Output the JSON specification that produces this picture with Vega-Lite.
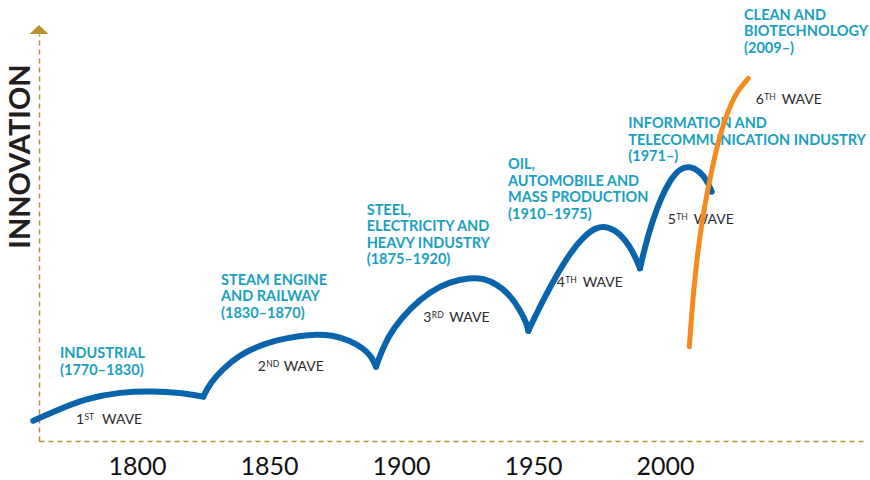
{
  "$schema": "https://vega.github.io/schema/vega-lite/v6.json",
  "width": 826,
  "height": 407,
  "autosize": {"type": "none"},
  "padding": {"left": 39, "top": 34, "right": 5, "bottom": 39},
  "background": "white",
  "config": {"view": {"stroke": null}, "font": "Lato"},
  "datasets": {
    "waves": [
      {"w": 1, "year": 1760.72, "v": 4.99},
      {"w": 1, "year": 1768.3, "v": 7.2},
      {"w": 1, "year": 1780.95, "v": 10.49},
      {"w": 1, "year": 1793.56, "v": 12.04},
      {"w": 1, "year": 1806.18, "v": 12.29},
      {"w": 1, "year": 1816.29, "v": 11.87},
      {"w": 1, "year": 1825.11, "v": 10.9},
      {"w": 2, "year": 1825.11, "v": 10.9},
      {"w": 2, "year": 1827.65, "v": 14.18},
      {"w": 2, "year": 1832.69, "v": 17.86},
      {"w": 2, "year": 1839.02, "v": 21.13},
      {"w": 2, "year": 1845.34, "v": 23.17},
      {"w": 2, "year": 1852.92, "v": 24.82},
      {"w": 2, "year": 1861.74, "v": 25.87},
      {"w": 2, "year": 1868.07, "v": 26.22},
      {"w": 2, "year": 1874.36, "v": 25.97},
      {"w": 2, "year": 1880.68, "v": 24.64},
      {"w": 2, "year": 1885.72, "v": 22.78},
      {"w": 2, "year": 1888.9, "v": 20.71},
      {"w": 2, "year": 1890.53, "v": 18.26},
      {"w": 3, "year": 1890.53, "v": 18.26},
      {"w": 3, "year": 1893.3, "v": 23.17},
      {"w": 3, "year": 1897.08, "v": 27.69},
      {"w": 3, "year": 1903.41, "v": 32.6},
      {"w": 3, "year": 1910.99, "v": 36.68},
      {"w": 3, "year": 1918.56, "v": 39.14},
      {"w": 3, "year": 1926.14, "v": 40.12},
      {"w": 3, "year": 1931.18, "v": 39.98},
      {"w": 3, "year": 1936.25, "v": 38.57},
      {"w": 3, "year": 1941.29, "v": 35.87},
      {"w": 3, "year": 1945.08, "v": 32.19},
      {"w": 3, "year": 1947.61, "v": 28.92},
      {"w": 3, "year": 1948.22, "v": 27.03},
      {"w": 4, "year": 1948.22, "v": 27.03},
      {"w": 4, "year": 1950.76, "v": 30.54},
      {"w": 4, "year": 1954.55, "v": 35.45},
      {"w": 4, "year": 1958.98, "v": 40.79},
      {"w": 4, "year": 1964.02, "v": 46.12},
      {"w": 4, "year": 1969.05, "v": 50.2},
      {"w": 4, "year": 1974.13, "v": 52.65},
      {"w": 4, "year": 1978.52, "v": 52.65},
      {"w": 4, "year": 1982.96, "v": 51.03},
      {"w": 4, "year": 1986.74, "v": 47.74},
      {"w": 4, "year": 1989.28, "v": 44.47},
      {"w": 4, "year": 1990.53, "v": 42.43},
      {"w": 5, "year": 1990.53, "v": 42.43},
      {"w": 5, "year": 1992.43, "v": 47.74},
      {"w": 5, "year": 1994.96, "v": 53.49},
      {"w": 5, "year": 1998.11, "v": 59.21},
      {"w": 5, "year": 2001.9, "v": 64.13},
      {"w": 5, "year": 2005.68, "v": 67.0},
      {"w": 5, "year": 2009.47, "v": 67.57},
      {"w": 5, "year": 2013.26, "v": 66.17},
      {"w": 5, "year": 2015.8, "v": 64.13},
      {"w": 5, "year": 2017.69, "v": 61.25}
    ],
    "sixth": [
      {"year": 2009.21, "v": 23.17},
      {"year": 2010.11, "v": 31.38},
      {"year": 2011.36, "v": 40.37},
      {"year": 2012.99, "v": 49.39},
      {"year": 2015.15, "v": 58.4},
      {"year": 2017.69, "v": 66.58},
      {"year": 2020.57, "v": 74.77},
      {"year": 2023.98, "v": 81.33},
      {"year": 2027.16, "v": 85.82},
      {"year": 2031.55, "v": 89.12}
    ],
    "arrow": [{"year": 1762.88, "v": 101.17}],
    "eras": [
      {"year": 1770.83, "v": 20.32, "t": "INDUSTRIAL\n(1770–1830)"},
      {"year": 1831.82, "v": 38.33, "t": "STEAM ENGINE\nAND RAILWAY\n(1830–1870)"},
      {"year": 1887.01, "v": 55.53, "t": "STEEL,\nELECTRICITY AND\nHEAVY INDUSTRY\n(1875–1920)"},
      {"year": 1940.53, "v": 66.83, "t": "OIL,\nAUTOMOBILE AND\nMASS PRODUCTION\n(1910–1975)"},
      {"year": 1986.1, "v": 76.83, "t": "INFORMATION AND\nTELECOMMUNICATION INDUSTRY\n(1971–)"},
      {"year": 2029.93, "v": 103.44, "t": "CLEAN AND\nBIOTECHNOLOGY\n(2009–)"}
    ],
    "labels": [
      {"year": 1776.9, "v": 4.18, "n": "1", "s": "ST"},
      {"year": 1845.72, "v": 17.27, "n": "2", "s": "ND"},
      {"year": 1908.45, "v": 29.31, "n": "3", "s": "RD"},
      {"year": 1958.98, "v": 37.91, "n": "4", "s": "TH"},
      {"year": 2001.02, "v": 53.24, "n": "5", "s": "TH"},
      {"year": 2034.36, "v": 82.8, "n": "6", "s": "TH"}
    ]
  },
  "encoding": {
    "x": {
      "field": "year",
      "type": "quantitative",
      "scale": {"domain": [1762.88, 2075.76], "nice": false, "zero": false},
      "axis": {
        "values": [1800, 1850, 1900, 1950, 2000],
        "format": "d",
        "title": null,
        "ticks": false,
        "tickSize": 0,
        "grid": false,
        "labelFont": "Lato",
        "labelFontSize": 25,
        "labelFontWeight": "normal",
        "labelColor": "#111111",
        "labelPadding": 13,
        "labelFlush": false,
        "domainColor": "#B8912F",
        "domainDash": [5, 4],
        "domainWidth": 1.5
      }
    },
    "y": {
      "field": "v",
      "type": "quantitative",
      "scale": {"domain": [0, 100], "nice": false, "zero": false},
      "axis": {
        "title": "INNOVATION",
        "labels": false,
        "ticks": false,
        "grid": false,
        "domainColor": "#B8912F",
        "domainDash": [5, 4],
        "domainWidth": 1.5,
        "titleFont": "Lato",
        "titleFontSize": 29,
        "titleFontWeight": "bold",
        "titleColor": "#231F20",
        "titleX": -19,
        "titleY": 122,
        "titleAngle": 270,
        "titleAlign": "center",
        "titleBaseline": "middle"
      }
    }
  },
  "layer": [
    {
      "data": {"name": "waves"},
      "mark": {"type": "line", "color": "#0A64AC", "strokeWidth": 6, "strokeCap": "round", "strokeJoin": "round", "interpolate": "basis", "clip": false},
      "encoding": {"detail": {"field": "w", "type": "nominal"}}
    },
    {
      "data": {"name": "arrow"},
      "mark": {"type": "point", "shape": "M-1,0.5L1,0.5L0,-0.45Z", "size": 361, "filled": true, "color": "#B8912F", "opacity": 1, "strokeWidth": 0}
    },
    {
      "data": {"name": "eras"},
      "mark": {"type": "text", "align": "left", "baseline": "alphabetic", "font": "Lato", "fontSize": 14.5, "fontWeight": "bold", "color": "#1A9FC0", "lineBreak": "\n", "lineHeight": 16.5},
      "encoding": {"text": {"field": "t"}}
    },
    {
      "data": {"name": "labels"},
      "mark": {"type": "text", "align": "left", "baseline": "alphabetic", "font": "Lato", "fontSize": 14, "color": "#2B2B2B"},
      "encoding": {"text": {"field": "n"}}
    },
    {
      "data": {"name": "labels"},
      "mark": {"type": "text", "align": "left", "baseline": "alphabetic", "font": "Lato", "fontSize": 8.5, "color": "#2B2B2B", "dx": 8.5, "dy": -4},
      "encoding": {"text": {"field": "s"}}
    },
    {
      "data": {"name": "labels"},
      "mark": {"type": "text", "align": "left", "baseline": "alphabetic", "font": "Lato", "fontSize": 14, "color": "#2B2B2B", "dx": 26},
      "encoding": {"text": {"value": "WAVE"}}
    },
    {
      "data": {"name": "sixth"},
      "mark": {"type": "line", "color": "#F58A1F", "strokeWidth": 5, "strokeCap": "round", "interpolate": "basis", "clip": false}
    }
  ]
}
